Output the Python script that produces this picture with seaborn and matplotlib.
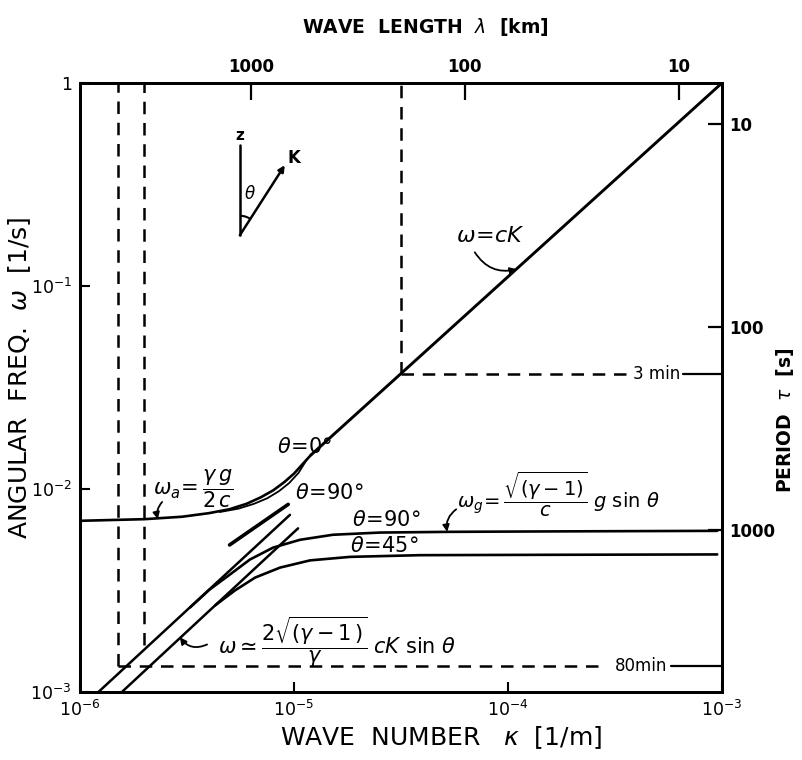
import numpy as np
import pandas as pd
import matplotlib
matplotlib.use("Agg")
import matplotlib.pyplot as plt
import matplotlib.transforms as mtransforms
from matplotlib.patches import Arc
from matplotlib.ticker import NullLocator
import seaborn as sns

# ---------------- data ----------------
# omega = cK line (upper part)
K_ck = [1.2e-5, 3.16e-5, 1.0e-3]
w_ck = [1.47e-2, 3.7e-2, 1.0]
# short thick segment below the acoustic branches
K_seg = [5.0e-6, 9.4e-6]
w_seg = [5.3e-3, 8.4e-3]
# acoustic branch, theta = 0 deg
K_ac0 = [1.0e-6, 2e-6, 3e-6, 4e-6, 5e-6, 6e-6, 7e-6, 8e-6, 9e-6, 1.0e-5, 1.1e-5, 1.2e-5]
w_ac0 = [6.97e-3, 7.1e-3, 7.3e-3, 7.6e-3, 7.95e-3, 8.45e-3, 9.1e-3, 9.85e-3, 1.08e-2, 1.19e-2, 1.33e-2, 1.47e-2]
# acoustic branch, theta = 90 deg
K_ac90 = [4.5e-6, 5.5e-6, 6.5e-6, 7.5e-6, 8.5e-6, 9.5e-6, 1.05e-5, 1.15e-5]
w_ac90 = [7.7e-3, 8.0e-3, 8.45e-3, 9.0e-3, 9.75e-3, 1.07e-2, 1.2e-2, 1.4e-2]
# gravity-wave low-K asymptotes
K_asy90 = [1.22e-6, 9.58e-6]
w_asy90 = [1.0e-3, 7.46e-3]
K_asy45 = [1.57e-6, 1.045e-5]
w_asy45 = [1.0e-3, 6.4e-3]
# gravity branch, theta = 90 deg
K_g90 = [3.27e-6, 4.04e-6, 5.02e-6, 6.22e-6, 7.98e-6, 1.067e-5, 1.52e-5, 2.52e-5, 5.36e-5, 1.57e-4, 9.5e-4]
w_g90 = [2.61e-3, 3.2e-3, 3.79e-3, 4.49e-3, 5.14e-3, 5.62e-3, 5.95e-3, 6.1e-3, 6.15e-3, 6.18e-3, 6.22e-3]
# gravity branch, theta = 45 deg
K_g45 = [4.28e-6, 5.29e-6, 6.58e-6, 8.61e-6, 1.19e-5, 1.83e-5, 3.88e-5, 1.57e-4, 9.5e-4]
w_g45 = [2.67e-3, 3.16e-3, 3.66e-3, 4.1e-3, 4.45e-3, 4.63e-3, 4.72e-3, 4.74e-3, 4.76e-3]
# reference dashed lines
K_vdash = [1.5e-6, 2.0e-6]
w_vdash_bottom = [1.35e-3, 1.7e-3]
K_3min = 3.16e-5
w_3min = 3.7e-2
w_80min = 1.35e-3
K_80dash_end = 2.8e-4
K_80solid_start = 5.8e-4
K_3dash_end = 3.9e-4
K_3solid_start = 6.6e-4

# axis ticks
x_ticks = [1e-6, 1e-5, 1e-4, 1e-3]
x_ticklabels = [r"$10^{-6}$", r"$10^{-5}$", r"$10^{-4}$", r"$10^{-3}$"]
y_ticks = [1e-3, 1e-2, 1e-1, 1.0]
y_ticklabels = [r"$10^{-3}$", r"$10^{-2}$", r"$10^{-1}$", "1"]
lam_ticks = [1000, 100, 10]
lam_ticklabels = ["1000", "100", "10"]
tau_ticks = [10, 100, 1000]
tau_ticklabels = ["10", "100", "1000"]

# ---------------- figure ----------------
sns.set_style("white")
plt.rcParams["font.family"] = ["DejaVu Sans"]
plt.rcParams["mathtext.fontset"] = "dejavusans"
for key in ("text.color", "axes.labelcolor", "xtick.color", "ytick.color",
            "axes.edgecolor"):
    plt.rcParams[key] = "black"

fig = plt.figure(figsize=(8.03, 7.6), dpi=100)
ax = fig.add_axes([0.0996, 0.0895, 0.7995, 0.8013])
ax.set_xscale("log")
ax.set_yscale("log")
ax.set_xlim(1e-6, 1e-3)
ax.set_ylim(1e-3, 1.0)

black = "black"


def curve(K, w, lw=1.8, **kw):
    df = pd.DataFrame({"K": K, "w": w})
    sns.lineplot(data=df, x="K", y="w", ax=ax, color=black, lw=lw,
                 sort=False, estimator=None, legend=False, **kw)


curve(K_ck, w_ck, lw=2.1)
curve(K_seg, w_seg, lw=2.6)
curve(K_ac0, w_ac0, lw=1.9)
curve(K_ac90, w_ac90, lw=1.3)
curve(K_asy90, w_asy90, lw=1.8)
curve(K_asy45, w_asy45, lw=1.8)
curve(K_g90, w_g90, lw=1.9)
curve(K_g45, w_g45, lw=1.9)

dash = dict(color=black, lw=1.8, dashes=(5, 3.5))
for Kv, wb in zip(K_vdash, w_vdash_bottom):
    ax.plot([Kv, Kv], [wb, 1.0], **dash)
# 3 min
ax.plot([K_3min, K_3min], [w_3min, 1.0], **dash)
ax.plot([K_3min, K_3dash_end], [w_3min, w_3min], **dash)
ax.plot([K_3solid_start, 1e-3], [w_3min, w_3min], color=black, lw=1.6)
# 80 min
ax.plot([K_vdash[0], K_80dash_end], [w_80min, w_80min], **dash)
ax.plot([K_80solid_start, 1e-3], [w_80min, w_80min], color=black, lw=1.6)

blend = mtransforms.blended_transform_factory(ax.transAxes, ax.transData)
ax.text(0.898, w_3min, "3 min", transform=blend, ha="center", va="center",
        fontsize=12)
ax.text(0.874, w_80min, "80min", transform=blend, ha="center", va="center",
        fontsize=12)

# ---------------- axes styling ----------------
for s in ax.spines.values():
    s.set_linewidth(2.0)
    s.set_color(black)
ax.xaxis.set_minor_locator(NullLocator())
ax.yaxis.set_minor_locator(NullLocator())
ax.set_xticks(x_ticks)
ax.set_xticklabels(x_ticklabels, fontsize=12.5)
ax.set_yticks(y_ticks)
ax.set_yticklabels(y_ticklabels, fontsize=12.5)
ax.tick_params(axis="both", which="major", direction="in", length=7,
               width=1.5, color=black, pad=6)
ax.set_xlabel("")
ax.set_ylabel("")

# top: wavelength in km (lambda = 2 pi / K)
axt = ax.twiny()
axt.set_xscale("log")
axt.set_xlim(2 * np.pi / 1e-6 / 1e3, 2 * np.pi / 1e-3 / 1e3)
axt.xaxis.set_minor_locator(NullLocator())
axt.set_xticks(lam_ticks)
axt.set_xticklabels(lam_ticklabels, fontsize=12, fontweight="bold")
axt.tick_params(axis="x", direction="in", length=12, width=1.6, pad=5)
axt.set_ylim(ax.get_ylim())
axt.yaxis.set_visible(False)

# right: period in s (tau = 2 pi / omega)
axr = ax.twinx()
axr.set_yscale("log")
axr.set_ylim(2 * np.pi / 1e-3, 2 * np.pi / 1.0)
axr.yaxis.set_minor_locator(NullLocator())
axr.set_yticks(tau_ticks)
axr.set_yticklabels(tau_ticklabels, fontsize=12, fontweight="bold")
axr.tick_params(axis="y", direction="in", length=10, width=1.6, pad=5)
for a in (axt, axr):
    for s in a.spines.values():
        s.set_linewidth(2.0)

# ---------------- annotations ----------------
th = dict(transform=ax.transAxes, ha="center", va="center", fontsize=15)
ax.text(0.350, 0.402, r"$\theta\!=\!0$°", **th)
ax.text(0.388, 0.327, r"$\theta\!=\!90$°", **th)
ax.text(0.477, 0.282, r"$\theta\!=\!90$°", **th)
ax.text(0.474, 0.240, r"$\theta\!=\!45$°", **th)

arrow = dict(arrowstyle="-|>", color=black, lw=1.3, mutation_scale=10,
             shrinkA=0, shrinkB=0)

ax.text(0.639, 0.748, r"$\omega\!=\!cK$", transform=ax.transAxes,
        ha="center", va="center", fontsize=16)
ax.annotate("", xy=(1.1e-4, 0.121), xycoords="data",
            xytext=(0.615, 0.722), textcoords="axes fraction",
            arrowprops=dict(connectionstyle="arc3,rad=0.35", **arrow))

ax.text(0.176, 0.334, r"$\omega_a\!=\dfrac{\gamma\, g}{2\,c}$",
        transform=ax.transAxes, ha="center", va="center", fontsize=15)
ax.annotate("", xy=(2.31e-6, 7.1e-3), xycoords="data",
            xytext=(0.128, 0.312), textcoords="axes fraction",
            arrowprops=dict(connectionstyle="arc3,rad=0.25", **arrow))

ax.text(0.745, 0.325,
        r"$\omega_g\!=\dfrac{\sqrt{(\gamma-1)}}{c}\;g\ \sin\,\theta$",
        transform=ax.transAxes, ha="center", va="center", fontsize=14)
ax.annotate("", xy=(5.2e-5, 6.15e-3), xycoords="data",
            xytext=(0.586, 0.300), textcoords="axes fraction",
            arrowprops=dict(connectionstyle="arc3,rad=0.3", **arrow))

ax.text(0.40, 0.082,
        r"$\omega\simeq\dfrac{2\sqrt{(\gamma-1\,)}}{\gamma}\;cK\ \sin\,\theta$",
        transform=ax.transAxes, ha="center", va="center", fontsize=15)
ax.annotate("", xy=(2.93e-6, 1.86e-3), xycoords="data",
            xytext=(0.198, 0.078), textcoords="axes fraction",
            arrowprops=dict(connectionstyle="arc3,rad=-0.4", **arrow))

# small geometry sketch (z axis, wave vector K, angle theta)
O = (0.249, 0.750)
ax.plot([O[0], O[0]], [O[1], 0.898], color=black, lw=1.8,
        transform=ax.transAxes)
ax.annotate("", xy=(0.319, 0.865), xycoords="axes fraction",
            xytext=O, textcoords="axes fraction",
            arrowprops=dict(arrowstyle="-|>", color=black, lw=1.8,
                            mutation_scale=9, shrinkA=0, shrinkB=0))
ax.add_patch(Arc(O, 0.06, 0.064, theta1=57, theta2=90, transform=ax.transAxes,
                 color=black, lw=1.5))
ax.text(0.249, 0.913, "z", transform=ax.transAxes, ha="center", va="center",
        fontsize=11, fontweight="bold")
ax.text(0.334, 0.877, "K", transform=ax.transAxes, ha="center", va="center",
        fontsize=12, fontweight="bold")
ax.text(0.265, 0.818, r"$\theta$", transform=ax.transAxes, ha="center",
        va="center", fontsize=12)

# ---------------- axis titles ----------------
fig.text(0.549, 0.030, r"WAVE  NUMBER   $\kappa$  [1/m]", ha="center",
         va="center", fontsize=18)
fig.text(0.530, 0.964, r"WAVE  LENGTH  $\lambda$  [km]", ha="center",
         va="center", fontsize=13.5, fontweight="bold")
fig.text(0.024, 0.503, r"ANGULAR  FREQ.  $\omega$  [1/s]", ha="center",
         va="center", rotation=90, fontsize=18)
fig.text(0.978, 0.447, r"PERIOD  $\tau$  [s]", ha="center", va="center",
         rotation=90, fontsize=13.5, fontweight="bold")

fig.savefig("out.png", dpi=100)
